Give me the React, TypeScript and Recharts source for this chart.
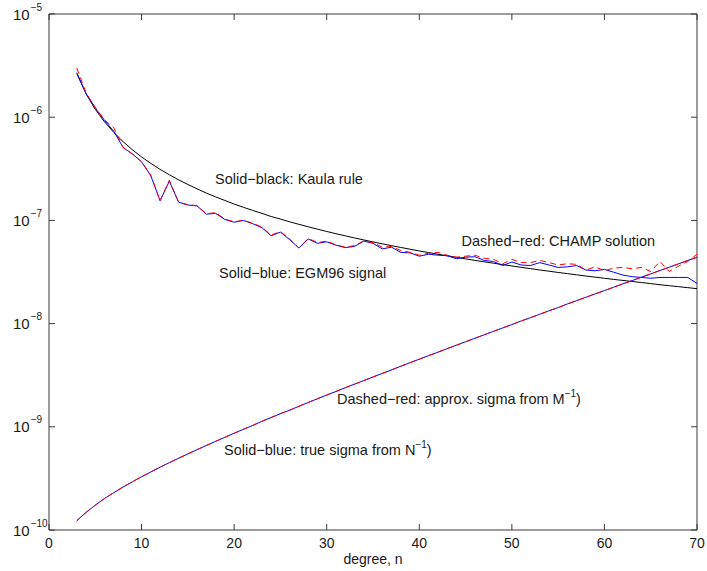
import React from "react";
import { LineChart, Line, XAxis, YAxis, ReferenceLine } from "recharts";

// Spherical-harmonic degree
const degrees = [
  3, 4, 5, 6, 7, 8, 9, 10, 11, 12, 13, 14, 15, 16, 17, 18, 19, 20, 21, 22, 23, 24, 25, 26,
  27, 28, 29, 30, 31, 32, 33, 34, 35, 36, 37, 38, 39, 40, 41, 42, 43, 44, 45, 46, 47, 48,
  49, 50, 51, 52, 53, 54, 55, 56, 57, 58, 59, 60, 61, 62, 63, 64, 65, 66, 67, 68, 69, 70,
];

// Kaula rule of thumb (degree RMS)
const kaulaRule = [
  2.65e-6, 1.69e-6, 1.19e-6, 9.01e-7, 7.11e-7, 5.8e-7, 4.84e-7, 4.12e-7, // 3-10
  3.57e-7, 3.12e-7, 2.77e-7, 2.47e-7, 2.23e-7, 2.02e-7, 1.84e-7, 1.69e-7, 1.56e-7, 1.44e-7, // 11-20
  1.34e-7, 1.25e-7, 1.17e-7, 1.09e-7, 1.03e-7, 9.69e-8, 9.16e-8, 8.67e-8, 8.22e-8, 7.81e-8, // 21-30
  7.43e-8, 7.09e-8, 6.76e-8, 6.47e-8, 6.19e-8, 5.93e-8, 5.69e-8, 5.47e-8, 5.26e-8, 5.06e-8, // 31-40
  4.88e-8, 4.7e-8, 4.54e-8, 4.39e-8, 4.24e-8, 4.1e-8, 3.97e-8, 3.85e-8, 3.73e-8, 3.62e-8, // 41-50
  3.51e-8, 3.41e-8, 3.31e-8, 3.22e-8, 3.13e-8, 3.05e-8, 2.97e-8, 2.89e-8, 2.82e-8, 2.75e-8, // 51-60
  2.68e-8, 2.62e-8, 2.56e-8, 2.5e-8, 2.44e-8, 2.38e-8, 2.33e-8, 2.28e-8, 2.23e-8, 2.18e-8, // 61-70
];

// EGM96 signal degree RMS
const egm96Signal = [
  2.7e-6, 1.7e-6, 1.23e-6, 9.3e-7, 7.3e-7, 5.1e-7, 4.4e-7, 3.7e-7, // 3-10
  2.7e-7, 1.55e-7, 2.4e-7, 1.5e-7, 1.41e-7, 1.38e-7, 1.15e-7, 1.17e-7, 1.02e-7, 9.6e-8, // 11-20
  1.0e-7, 9.3e-8, 8.5e-8, 7.1e-8, 7.7e-8, 6.5e-8, 5.4e-8, 6.6e-8, 6.0e-8, 6.2e-8, // 21-30
  5.75e-8, 5.45e-8, 5.6e-8, 6.3e-8, 6.0e-8, 5.3e-8, 5.5e-8, 4.9e-8, 4.85e-8, 4.5e-8, // 31-40
  4.7e-8, 4.6e-8, 4.55e-8, 4.25e-8, 4.4e-8, 4.45e-8, 4.1e-8, 4.0e-8, 3.65e-8, 3.95e-8, // 41-50
  3.7e-8, 3.65e-8, 3.9e-8, 3.7e-8, 3.5e-8, 3.55e-8, 3.65e-8, 3.3e-8, 3.25e-8, 3.35e-8, // 51-60
  3.15e-8, 2.95e-8, 2.85e-8, 2.8e-8, 2.75e-8, 2.8e-8, 2.8e-8, 2.8e-8, 2.8e-8, 2.45e-8, // 61-70
];

// CHAMP solution degree RMS
const champSolution = [
  3.0e-6, 1.72e-6, 1.24e-6, 9.4e-7, 7.9e-7, 5.1e-7, 4.4e-7, 3.7e-7, // 3-10
  2.75e-7, 1.55e-7, 2.45e-7, 1.5e-7, 1.42e-7, 1.39e-7, 1.16e-7, 1.19e-7, 1.03e-7, 9.7e-8, // 11-20
  1.0e-7, 9.4e-8, 8.6e-8, 7.2e-8, 7.8e-8, 6.6e-8, 5.4e-8, 6.7e-8, 6.1e-8, 6.3e-8, // 21-30
  5.8e-8, 5.5e-8, 5.7e-8, 6.3e-8, 6.1e-8, 5.5e-8, 5.6e-8, 5.1e-8, 4.9e-8, 4.6e-8, // 31-40
  4.8e-8, 4.9e-8, 4.6e-8, 4.4e-8, 4.5e-8, 4.6e-8, 4.3e-8, 4.2e-8, 3.8e-8, 4.2e-8, // 41-50
  3.9e-8, 3.9e-8, 4.1e-8, 3.9e-8, 3.7e-8, 3.8e-8, 3.75e-8, 3.3e-8, 3.55e-8, 3.25e-8, // 51-60
  3.45e-8, 3.5e-8, 3.4e-8, 3.5e-8, 3.2e-8, 4.0e-8, 3.2e-8, 3.6e-8, 4.0e-8, 4.7e-8, // 61-70
];

// Formal error from the full normal matrix N^-1
const trueSigma = [
  1.23e-10, 1.48e-10, 1.74e-10, 2.02e-10, 2.3e-10, 2.61e-10, 2.93e-10, 3.28e-10, // 3-10
  3.65e-10, 4.06e-10, 4.49e-10, 4.96e-10, 5.46e-10, 6.01e-10, 6.59e-10, 7.23e-10, 7.91e-10, 8.66e-10, // 11-20
  9.46e-10, 1.03e-9, 1.13e-9, 1.23e-9, 1.34e-9, 1.45e-9, 1.58e-9, 1.72e-9, 1.87e-9, 2.03e-9, // 21-30
  2.2e-9, 2.39e-9, 2.59e-9, 2.8e-9, 3.04e-9, 3.29e-9, 3.56e-9, 3.86e-9, 4.18e-9, 4.52e-9, // 31-40
  4.89e-9, 5.28e-9, 5.71e-9, 6.17e-9, 6.67e-9, 7.2e-9, 7.78e-9, 8.4e-9, 9.07e-9, 9.79e-9, // 41-50
  1.06e-8, 1.14e-8, 1.23e-8, 1.33e-8, 1.43e-8, 1.55e-8, 1.67e-8, 1.8e-8, 1.94e-8, 2.09e-8, // 51-60
  2.25e-8, 2.43e-8, 2.61e-8, 2.82e-8, 3.03e-8, 3.27e-8, 3.52e-8, 3.79e-8, 4.09e-8, 4.4e-8, // 61-70
];

// Approximate error from the block-diagonal matrix M^-1
const approxSigma = [
  1.23e-10, 1.48e-10, 1.74e-10, 2.02e-10, 2.3e-10, 2.61e-10, 2.93e-10, 3.28e-10, // 3-10
  3.65e-10, 4.06e-10, 4.49e-10, 4.96e-10, 5.46e-10, 6.01e-10, 6.59e-10, 7.23e-10, 7.91e-10, 8.66e-10, // 11-20
  9.46e-10, 1.03e-9, 1.13e-9, 1.23e-9, 1.34e-9, 1.45e-9, 1.58e-9, 1.72e-9, 1.87e-9, 2.03e-9, // 21-30
  2.2e-9, 2.39e-9, 2.59e-9, 2.8e-9, 3.04e-9, 3.29e-9, 3.56e-9, 3.86e-9, 4.18e-9, 4.52e-9, // 31-40
  4.89e-9, 5.28e-9, 5.71e-9, 6.17e-9, 6.67e-9, 7.2e-9, 7.78e-9, 8.4e-9, 9.07e-9, 9.79e-9, // 41-50
  1.06e-8, 1.14e-8, 1.23e-8, 1.33e-8, 1.43e-8, 1.55e-8, 1.67e-8, 1.8e-8, 1.94e-8, 2.09e-8, // 51-60
  2.25e-8, 2.43e-8, 2.61e-8, 2.82e-8, 3.03e-8, 3.27e-8, 3.52e-8, 3.79e-8, 4.09e-8, 4.4e-8, // 61-70
];

const xTicks = [0, 10, 20, 30, 40, 50, 60, 70];
const yTicks = [1e-10, 1e-9, 1e-8, 1e-7, 1e-6, 1e-5];

const rows = degrees.map((n, i) => ({
  n,
  kaula: kaulaRule[i],
  egm96: egm96Signal[i],
  champ: champSolution[i],
  trueSigma: trueSigma[i],
  approxSigma: approxSigma[i],
}));

// Layout
const W = 707;
const H = 571;
const PLOT_LEFT = 49;
const PLOT_TOP = 14;
const PLOT_RIGHT = 697;
const PLOT_BOTTOM = 530;
const TICK_LEN = 6;
const FONT = '"Liberation Sans", Arial, Helvetica, sans-serif';
const AXIS_COLOR = "#3a3a3a";
const TEXT_COLOR = "#1a1a1a";

const XTick = (props: any) => {
  const { x, payload } = props;
  return (
    <g>
      <line x1={x} x2={x} y1={PLOT_BOTTOM} y2={PLOT_BOTTOM - TICK_LEN} stroke={AXIS_COLOR} />
      <line x1={x} x2={x} y1={PLOT_TOP} y2={PLOT_TOP + TICK_LEN} stroke={AXIS_COLOR} />
      <text x={x} y={PLOT_BOTTOM + 18} textAnchor="middle" fontSize={14} fontFamily={FONT} fill={TEXT_COLOR}>
        {payload.value}
      </text>
    </g>
  );
};

const YTick = (props: any) => {
  const { y, payload } = props;
  const exp = Math.round(Math.log10(payload.value));
  return (
    <g>
      <line x1={PLOT_LEFT} x2={PLOT_LEFT + TICK_LEN} y1={y} y2={y} stroke={AXIS_COLOR} />
      <line x1={PLOT_RIGHT - TICK_LEN} x2={PLOT_RIGHT} y1={y} y2={y} stroke={AXIS_COLOR} />
      <text x={13} y={y + 5.5} fontSize={15} fontFamily={FONT} fill={TEXT_COLOR}>
        10
        <tspan fontSize={10} dx={1} dy={-9}>
          {"\u2212" + Math.abs(exp)}
        </tspan>
      </text>
    </g>
  );
};

const Notes = () => (
  <svg
    width={W}
    height={H}
    style={{ position: "absolute", left: 0, top: 0, pointerEvents: "none" }}
  >
    <g fontFamily={FONT} fontSize={14.5} fill={TEXT_COLOR}>
      <text x={215} y={184}>Solid{"\u2212"}black: Kaula rule</text>
      <text x={461.5} y={246}>Dashed{"\u2212"}red: CHAMP solution</text>
      <text x={219} y={278}>Solid{"\u2212"}blue: EGM96 signal</text>
      <text x={337} y={404}>
        Dashed{"\u2212"}red: approx. sigma from M
        <tspan fontSize={10} dy={-7}>{"\u2212"}1</tspan>
        <tspan dy={7}>)</tspan>
      </text>
      <text x={224} y={455}>
        Solid{"\u2212"}blue: true sigma from N
        <tspan fontSize={10} dy={-7}>{"\u2212"}1</tspan>
        <tspan dy={7}>)</tspan>
      </text>
      <text x={(PLOT_LEFT + PLOT_RIGHT) / 2} y={564} textAnchor="middle" fontSize={14}>
        degree, n
      </text>
    </g>
  </svg>
);

export default function App() {
  return (
    <div style={{ position: "absolute", left: 0, top: 0, width: W, height: H, background: "#fff" }}>
      <LineChart
        width={W}
        height={H}
        data={rows}
        margin={{ top: PLOT_TOP, right: W - PLOT_RIGHT, left: 0, bottom: 0 }}
      >
        <XAxis
          dataKey="n"
          type="number"
          domain={[0, 70]}
          ticks={xTicks}
          interval={0}
          allowDataOverflow
          height={H - PLOT_BOTTOM}
          tickLine={false}
          axisLine={{ stroke: AXIS_COLOR }}
          tick={XTick}
        />
        <YAxis
          type="number"
          scale="log"
          domain={[1e-10, 1e-5]}
          ticks={yTicks}
          interval={0}
          allowDataOverflow
          width={PLOT_LEFT}
          tickLine={false}
          axisLine={{ stroke: AXIS_COLOR }}
          tick={YTick}
        />
        <ReferenceLine y={1e-5} stroke={AXIS_COLOR} ifOverflow="extendDomain" />
        <ReferenceLine x={70} stroke={AXIS_COLOR} ifOverflow="extendDomain" />
        <Line dataKey="kaula" stroke="#000000" strokeWidth={1} dot={false} activeDot={false} isAnimationActive={false} />
        <Line dataKey="egm96" stroke="#0000ff" strokeWidth={1} dot={false} activeDot={false} isAnimationActive={false} />
        <Line dataKey="champ" stroke="#ff0000" strokeWidth={1} strokeDasharray="6 4" dot={false} activeDot={false} isAnimationActive={false} />
        <Line dataKey="trueSigma" stroke="#0000ff" strokeWidth={1} dot={false} activeDot={false} isAnimationActive={false} />
        <Line dataKey="approxSigma" stroke="#ff0000" strokeWidth={1} strokeDasharray="6 4" dot={false} activeDot={false} isAnimationActive={false} />
      </LineChart>
      <Notes />
    </div>
  );
}
